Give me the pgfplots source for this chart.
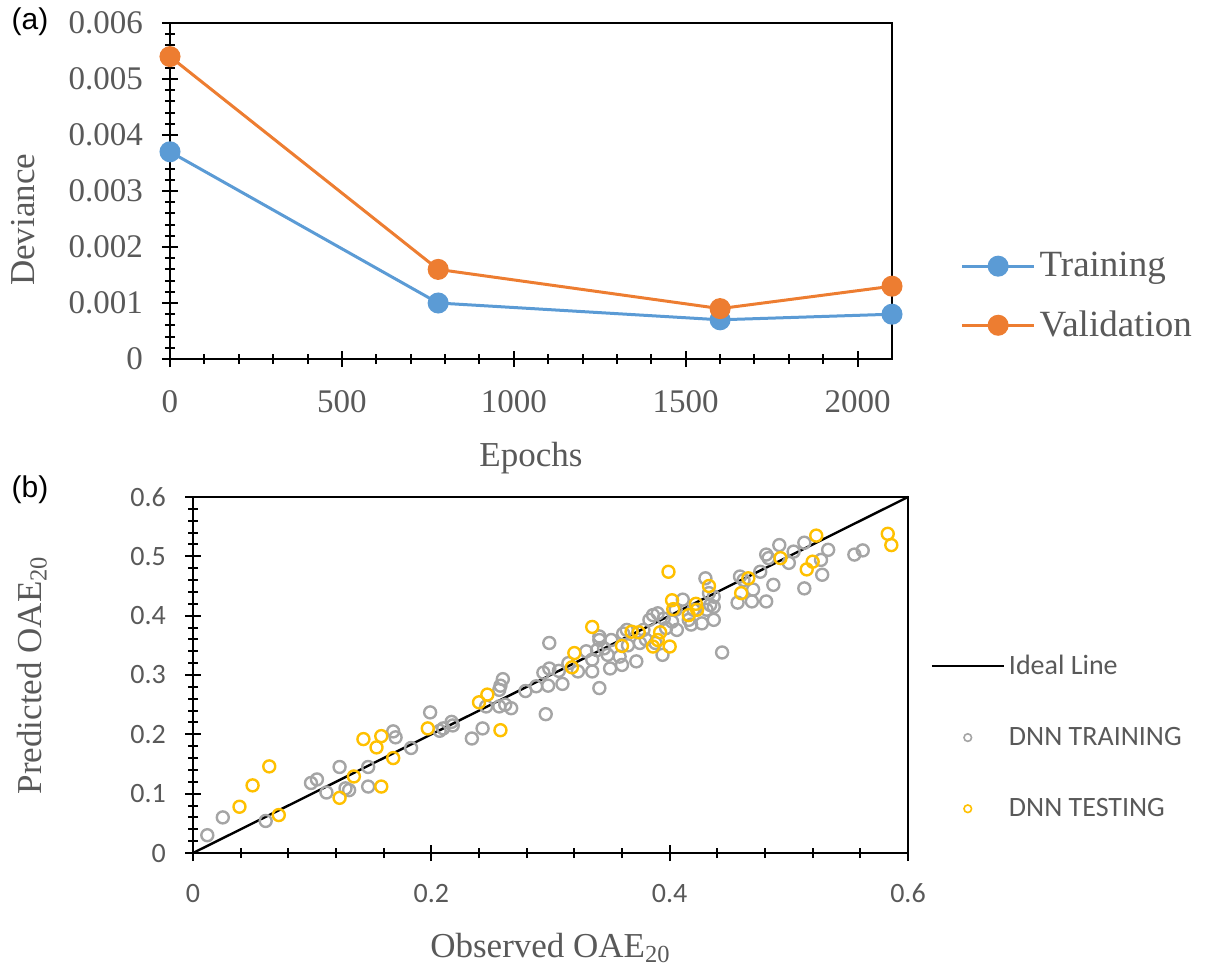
\documentclass[border=0pt]{standalone}
\usepackage{fontspec}
\setmainfont{Liberation Serif}
\setsansfont{Liberation Sans}
\newfontfamily\calibri{Carlito}
\usepackage{pgfplots}
\pgfplotsset{compat=1.18}

\definecolor{txtgrey}{RGB}{89,89,89}
\definecolor{trainblue}{RGB}{91,155,213}
\definecolor{valorange}{RGB}{237,125,49}
\definecolor{dnngrey}{RGB}{165,165,165}
\definecolor{dnngold}{RGB}{255,192,0}

\pgfplotsset{
  dotlegend/.style={legend image code/.code={\draw[mark size=1.9pt,
    mark options={line width=0.8pt}, ##1] plot coordinates {(18pt,0pt)};}},
}

\begin{document}
\begin{tikzpicture}
\path[use as bounding box] (0,0) rectangle (609pt,-484.5pt);

\node[font=\sffamily\fontsize{15}{18}\selectfont] at (15pt,-11pt) {(a)};
\node[font=\sffamily\fontsize{15}{18}\selectfont] at (15pt,-245pt) {(b)};

% (a) deviance vs epochs
\begin{axis}[
  at={(85pt,-11.5pt)}, anchor=north west, scale only axis,
  width=361pt, height=168pt,
  xmin=0, xmax=2100, ymin=0, ymax=0.006,
  xtick={0,500,1000,1500,2000}, minor x tick num=4,
  ytick={0,0.001,0.002,0.003,0.004,0.005,0.006},
  yticklabels={0,0.001,0.002,0.003,0.004,0.005,0.006},
  scaled y ticks=false, minor y tick num=4,
  xtick pos=bottom, ytick pos=left,
  axis line style={line width=1pt},
  tick style={black, line width=1pt},
  tick align=center, major tick length=8pt, minor tick length=5pt,
  /pgf/number format/assume math mode=true,
  /pgf/number format/1000 sep={},
  tick label style={font=\fontsize{16.5}{20}\selectfont, text=txtgrey},
  xticklabel style={yshift=-8pt},
  yticklabel style={xshift=-6pt},
  xlabel={Epochs}, ylabel={Deviance},
  label style={font=\fontsize{17.5}{21}\selectfont, text=txtgrey},
  xlabel style={at={(axis description cs:0.5,-0.295)}, anchor=center},
  ylabel style={at={(axis description cs:-0.2036,0.414)}, anchor=center},
  legend style={at={(axis description cs:1.0945,0.1875)}, anchor=west,
    draw=none, fill=none, inner sep=0pt, row sep=11.5pt,
    font=\fontsize{18.5}{22}\selectfont, text=txtgrey},
  legend cell align=left,
  legend image code/.code={\draw[mark repeat=2,mark phase=2,#1]
    plot coordinates {(0pt,0pt) (18pt,0pt) (36pt,0pt)};},
  clip=false,
]
\addplot[trainblue, line width=1.5pt, mark=*, mark size=4.5pt, mark options={solid}]
  coordinates {(0,0.0037) (780,0.0010) (1600,0.0007) (2100,0.0008)};
\addlegendentry{Training}
\addplot[valorange, line width=1.5pt, mark=*, mark size=4.5pt, mark options={solid}]
  coordinates {(0,0.0054) (780,0.0016) (1600,0.0009) (2100,0.0013)};
\addlegendentry{Validation}
\end{axis}

% (b) predicted vs observed
\begin{axis}[
  at={(96.5pt,-248.5pt)}, anchor=north west, scale only axis,
  width=357.5pt, height=178pt,
  xmin=0, xmax=0.6, ymin=0, ymax=0.6,
  xtick={0,0.2,0.4,0.6}, minor x tick num=4,
  ytick={0,0.1,0.2,0.3,0.4,0.5,0.6}, minor y tick num=4,
  xtick pos=bottom, ytick pos=left,
  axis line style={line width=1pt},
  tick style={black, line width=1pt},
  tick align=center, major tick length=8pt, minor tick length=5pt,
  /pgf/number format/assume math mode=true,
  tick label style={font=\calibri\fontsize{14}{16}\selectfont, text=txtgrey},
  xticklabel style={yshift=-8pt},
  yticklabel style={xshift=-6pt},
  xlabel={Observed OAE\textsubscript{20}}, ylabel={Predicted OAE\textsubscript{20}},
  label style={font=\fontsize{17.5}{21}\selectfont, text=txtgrey},
  xlabel style={at={(axis description cs:0.5,-0.267)}, anchor=center},
  ylabel style={at={(axis description cs:-0.225,0.5)}, anchor=center},
  legend style={at={(axis description cs:1.031,0.326)}, anchor=west,
    draw=none, fill=none, inner sep=0pt, row sep=21pt,
    font=\calibri\fontsize{14}{17}\selectfont, text=txtgrey},
  legend cell align=left,
  legend image code/.code={\draw[#1] (0pt,0pt) -- (36pt,0pt);},
  clip=false,
]
\addplot[black, line width=1.2pt] coordinates {(0,0) (0.6,0.6)};
\addlegendentry{Ideal Line}
\addplot[only marks, mark=o, mark size=3pt, dnngrey, mark options={line width=1.2pt}, dotlegend]
  coordinates {
  (0.012,0.030) (0.025,0.060) (0.061,0.054) (0.099,0.118) (0.104,0.124)
  (0.112,0.102) (0.123,0.145) (0.128,0.109) (0.131,0.106) (0.147,0.145)
  (0.147,0.112) (0.168,0.205) (0.170,0.195) (0.183,0.177) (0.199,0.237)
  (0.207,0.206) (0.210,0.210) (0.217,0.221) (0.218,0.215) (0.234,0.193)
  (0.243,0.210) (0.246,0.247) (0.257,0.247) (0.260,0.293) (0.258,0.282)
  (0.257,0.275) (0.262,0.250) (0.267,0.244) (0.279,0.273) (0.288,0.281)
  (0.296,0.234) (0.299,0.354) (0.294,0.304) (0.299,0.311) (0.298,0.282)
  (0.310,0.285) (0.307,0.307) (0.315,0.320) (0.323,0.306) (0.335,0.306)
  (0.335,0.326) (0.330,0.340) (0.341,0.278) (0.341,0.365) (0.341,0.359)
  (0.339,0.342) (0.348,0.334) (0.351,0.359) (0.350,0.311) (0.358,0.331)
  (0.345,0.345) (0.361,0.370) (0.364,0.376) (0.360,0.317) (0.365,0.350)
  (0.372,0.323) (0.375,0.354) (0.378,0.376) (0.380,0.360) (0.383,0.393)
  (0.386,0.401) (0.390,0.404) (0.388,0.354) (0.394,0.334) (0.397,0.379)
  (0.395,0.395) (0.402,0.390) (0.405,0.410) (0.411,0.427) (0.406,0.376)
  (0.416,0.393) (0.418,0.385) (0.420,0.410) (0.427,0.387) (0.431,0.410)
  (0.437,0.393) (0.430,0.463) (0.433,0.438) (0.444,0.338) (0.437,0.415)
  (0.457,0.422) (0.434,0.418) (0.437,0.432) (0.459,0.466) (0.462,0.460)
  (0.469,0.424) (0.470,0.444) (0.476,0.474) (0.481,0.424) (0.487,0.452)
  (0.481,0.503) (0.483,0.497) (0.492,0.519) (0.500,0.489) (0.504,0.508)
  (0.513,0.523) (0.513,0.446) (0.527,0.494) (0.528,0.469) (0.533,0.511)
  (0.555,0.503) (0.562,0.510)
  };
\addlegendentry{DNN TRAINING}
\addplot[only marks, mark=o, mark size=3pt, dnngold, mark options={line width=1.2pt}, dotlegend]
  coordinates {
  (0.039,0.078) (0.050,0.114) (0.064,0.146) (0.072,0.064) (0.123,0.093)
  (0.135,0.129) (0.158,0.112) (0.143,0.192) (0.154,0.178) (0.158,0.197)
  (0.168,0.160) (0.197,0.210) (0.240,0.254) (0.247,0.267) (0.258,0.207)
  (0.318,0.313) (0.320,0.337) (0.335,0.381) (0.360,0.349) (0.368,0.373)
  (0.374,0.372) (0.386,0.348) (0.392,0.372) (0.390,0.359) (0.400,0.348)
  (0.399,0.474) (0.402,0.426) (0.403,0.411) (0.416,0.401) (0.422,0.420)
  (0.423,0.410) (0.433,0.450) (0.460,0.438) (0.466,0.463) (0.493,0.497)
  (0.515,0.478) (0.520,0.491) (0.523,0.535) (0.583,0.538) (0.586,0.519)
  };
\addlegendentry{DNN TESTING}
\end{axis}
\end{tikzpicture}
\end{document}
